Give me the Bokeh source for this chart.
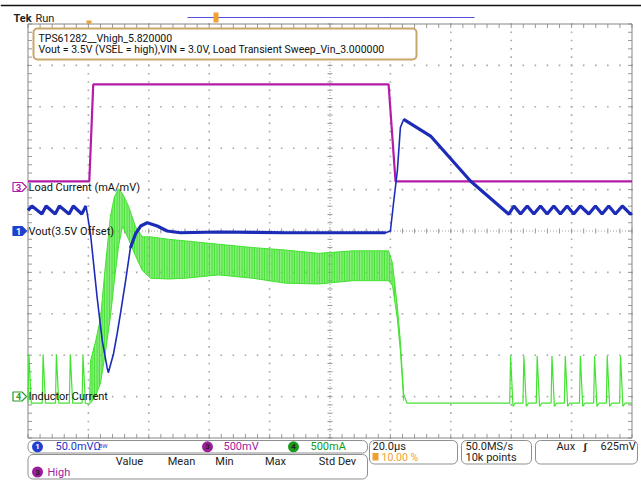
import numpy as np
from bokeh.plotting import figure
from bokeh.models import Range1d
from bokeh.core.properties import value
from bokeh.embed import file_html
from bokeh.resources import INLINE

# ---------------- data ----------------
# horizontal: 20 us/div, trigger position 10 %  ->  -20 us ... 180 us
time_start_us, time_end_us = -20.0, 180.0

# CH3 load current (500 mV/div), marker one division above centre
ch3_scale = 0.5
ch3_marker_div = 1.0
load_t = [-20.0, 0.3, 1.6, 99.4, 101.7, 180.0]
load_v = [0.10, 0.10, 1.27, 1.27, 0.10, 0.10]

# CH1 Vout, 50 mV/div, 3.5 V offset (deviation in mV)
ch1_scale = 50.0
ch1_marker_div = 0.0
vout_t = [-20.0, -18.7, -15.4, -14.0, -11.0, -9.6, -6.4, -5.0, -2.2, -0.8,
          0.7, 2.9, 4.6, 6.2, 6.6, 8.3, 9.5, 10.6, 12.3, 13.9, 15.6, 17.3,
          19.5, 22.8, 26.1, 30.5, 43.1, 65.3, 98.4, 100.0, 101.0, 102.3,
          103.3, 104.4, 113.3, 126.5, 139.2,
          140.9, 143.1, 145.3, 147.5, 149.7, 151.9, 154.1, 156.3, 158.5,
          160.7, 162.9, 165.7, 167.9, 170.1, 172.3, 174.5, 176.8, 179.5, 180.0]
vout_mv = [25.0, 30.2, 20.5, 30.2, 20.5, 30.2, 20.5, 30.2, 20.5, 30.2,
           -3.6, -80.6, -132.8, -165.1, -171.1, -148.5, -124.4, -100.2, -60.4, -20.5, -3.6, 6.0,
           10.0, 6.0, 0.0, -2.1, -1.2, -2.1, -2.1, 0.0, 32.6, 72.5,
           124.8, 134.9, 114.7, 60.4, 20.2,
           30.2, 20.5, 30.2, 20.5, 30.2, 20.5, 30.2, 20.5, 30.2,
           20.5, 30.2, 20.5, 30.2, 20.5, 30.2, 20.5, 30.2, 20.5, 21.5]

# CH4 inductor current, 500 mA/div, marker four divisions below centre
ch4_scale = 0.5
ch4_marker_div = -4.0
il_base_a = -0.08
il_pulse_before_t = [-20.0, -15.3, -10.9, -6.3, -2.1]
il_pulse_before_a = 0.51
il_pulse_after_t = [139.5, 143.9, 148.3, 153.2, 157.6, 162.6, 167.3, 171.5, 175.9]
il_pulse_after_a = 0.49
il_band_t = [0.4, 0.7, 2.4, 4.0, 5.7, 7.3, 8.6, 10.0, 11.3, 13.3, 15.6, 17.9, 20.6,
             26.5, 32.2, 43.1, 54.3, 65.3, 76.2, 87.5, 99.4, 100.7, 102.3, 103.3, 104.4]
il_band_hi = [-0.05, 0.43, 0.67, 0.94, 1.61, 2.18, 2.41, 2.51, 2.45, 2.30, 2.05, 1.93, 1.93,
              1.90, 1.88, 1.84, 1.80, 1.77, 1.73, 1.76, 1.76, 1.61, 1.09, 0.67, 0.03]
il_band_lo = [-0.09, -0.08, 0.01, 0.16, 0.55, 0.97, 1.40, 1.82, 2.06, 1.90, 1.70, 1.52, 1.43,
              1.42, 1.43, 1.47, 1.43, 1.37, 1.36, 1.40, 1.40, 1.34, 0.94, 0.55, -0.05]

# ---------------- layout ----------------
FONT = "Roboto"
FIG_W, FIG_H = 641, 498
PX_PER_US = 604 / 200.0
PX_PER_DIV = 414 / 10.0
GX0, GY0 = 27.5, 23.5
x_start = time_start_us - GX0 / PX_PER_US
x_end = x_start + FIG_W / PX_PER_US
y_top = 5 + GY0 / PX_PER_DIV
y_bot = y_top - FIG_H / PX_PER_DIV


def X(px):
    return x_start + px / PX_PER_US


def Y(py):
    return y_top - py / PX_PER_DIV


BLUE = "#1c2cb8"
MAG = "#b41ca8"
GREEN = "#44e232"
GRID = "#a8a8a8"

p = figure(width=FIG_W, height=FIG_H, x_range=Range1d(x_start, x_end),
           y_range=Range1d(y_bot, y_top), x_axis_location=None, y_axis_location=None,
           toolbar_location=None, output_backend="svg", min_border=0)
p.outline_line_color = None
p.background_fill_color = "white"
p.border_fill_color = "white"
p.xgrid.visible = False
p.ygrid.visible = False
p.extra_y_ranges = {
    "ch1": Range1d((y_bot - ch1_marker_div) * ch1_scale, (y_top - ch1_marker_div) * ch1_scale),
    "ch3": Range1d((y_bot - ch3_marker_div) * ch3_scale, (y_top - ch3_marker_div) * ch3_scale),
    "ch4": Range1d((y_bot - ch4_marker_div) * ch4_scale, (y_top - ch4_marker_div) * ch4_scale),
}

# top rule of the document page
p.segment(x0=[X(0)], y0=[Y(5)], x1=[X(641)], y1=[Y(5)], line_color="#111111", line_width=1.5)

# ---------------- graticule ----------------
minor_t = np.arange(-20, 180.001, 4.0)
minor_d = np.arange(-5, 5.001, 0.2)
rows = [-4, -3, -2, -1, 1, 2, 3, 4]
cols = [0, 20, 40, 60, 100, 120, 140, 160]
dx = np.concatenate([minor_t for _ in rows] + [np.full(len(minor_d), c) for c in cols])
dy = np.concatenate([np.full(len(minor_t), r) for r in rows] + [minor_d for _ in cols])
p.scatter(dx, dy, marker="square", size=1.6, fill_color=GRID, line_color=None)
p.segment(x0=[-20, 80], y0=[0, -5], x1=[180, 80], y1=[0, 5], line_color="#a0a0a0", line_dash="1 2")
p.scatter(minor_t, np.zeros(len(minor_t)), marker="dash", size=5, angle=np.pi / 2, line_color="#999999")
p.scatter(np.full(len(minor_d), 80), minor_d, marker="dash", size=5, line_color="#999999")
p.scatter(minor_t, np.full(len(minor_t), 5 - 2 / PX_PER_DIV), marker="dash", size=4, angle=np.pi / 2, line_color="#999999")
p.scatter(minor_t, np.full(len(minor_t), -5 + 2 / PX_PER_DIV), marker="dash", size=4, angle=np.pi / 2, line_color="#999999")
p.scatter(np.full(len(minor_d), -20 + 2 / PX_PER_US), minor_d, marker="dash", size=4, line_color="#999999")
p.scatter(np.full(len(minor_d), 180 - 2 / PX_PER_US), minor_d, marker="dash", size=4, line_color="#999999")
p.quad(left=[-20], right=[180], bottom=[-5], top=[5], fill_color=None, line_color="#858585", line_width=1)

# white backgrounds behind the channel labels
p.quad(left=[X(28.5)] * 3, right=[X(140), X(115), X(111)],
       bottom=[Y(192), Y(236), Y(401)], top=[Y(182), Y(225), Y(391)],
       fill_color="white", line_color=None)

# ---------------- traces ----------------
gt, ga = [], []
for tp in il_pulse_before_t:
    gt += [tp, tp + 0.3, tp + 1.1]
    ga += [il_base_a, il_pulse_before_a, il_base_a]
gt += [il_band_t[0]]
ga += [il_band_lo[0]]
p.line(gt, ga, y_range_name="ch4", line_color=GREEN, line_width=1.2)
p.varea(x=il_band_t, y1=il_band_lo, y2=il_band_hi, y_range_name="ch4", fill_color=GREEN, fill_alpha=0.62,
        hatch_pattern="vertical_line", hatch_color=GREEN, hatch_scale=2.5, hatch_weight=1.5, hatch_alpha=1.0)
p.line(il_band_t, il_band_hi, y_range_name="ch4", line_color=GREEN, line_width=1)
p.line(il_band_t, il_band_lo, y_range_name="ch4", line_color=GREEN, line_width=1)
gt2, ga2 = [il_band_t[-1], 105.5], [il_band_hi[-1], il_base_a]
for tp in il_pulse_after_t:
    gt2 += [tp, tp + 0.3, tp + 1.1, tp + 1.8]
    ga2 += [il_base_a, il_pulse_after_a, il_base_a - 0.04, il_base_a]
gt2 += [time_end_us]
ga2 += [il_base_a]
p.line(gt2, ga2, y_range_name="ch4", line_color=GREEN, line_width=1.2)

p.line(load_t, load_v, y_range_name="ch3", line_color=MAG, line_width=2.2)

# Vout: thin on fast edges, noisy (thicker) on the slow parts
p.line(vout_t, vout_mv, y_range_name="ch1", line_color=BLUE, line_width=1.6)
for a, b in [(0, 10), (19, 29), (33, len(vout_t))]:
    p.line(vout_t[a:b], vout_mv[a:b], y_range_name="ch1", line_color=BLUE, line_width=3.2)


def txt(x, y, s, size="11px", color="#111111", align="left", style="normal"):
    p.text(x=[x], y=[y], text=[s], text_font=value(FONT), text_font_size=value(size),
           text_color=color, text_align=align, text_baseline="middle", text_font_style=style)


def badge(py, color, filled, label):
    l, h = 12.5, 4.5
    xs = [X(l), X(l + 9), X(l + 13.5), X(l + 9), X(l)]
    ys = [Y(py - h), Y(py - h), Y(py), Y(py + h), Y(py + h)]
    p.patch(xs, ys, fill_color=color if filled else "white", line_color=color, line_width=1.2)
    txt(X(l + 5.5), Y(py), label, size="9px", color="white" if filled else color, align="center", style="bold")


# channel labels
badge(186.5, MAG, False, "3")
txt(X(28), Y(186.5), "Load Current (mA/mV)")
badge(230.5, "#1f3fd0", True, "1")
txt(X(28), Y(230.5), "Vout(3.5V Offset)")
badge(396, "#2a9a2a", False, "4")
txt(X(28), Y(396), "Inductor Current")

# ---------------- header ----------------
txt(X(13), Y(17.5), "Tek", size="11px", color="#222222", style="bold")
txt(X(35), Y(17.5), "Run", size="11px", color="#222222")
p.segment(x0=[X(187)], y0=[Y(17)], x1=[X(474)], y1=[Y(17)], line_color="#5050d8", line_width=1)
p.quad(left=[X(213)], right=[X(218)], bottom=[Y(22)], top=[Y(12)], fill_color="#f0a030", line_color=None)
p.quad(left=[X(86)], right=[X(91)], bottom=[Y(23)], top=[Y(20)], fill_color="#f0a030", line_color=None)
p.quad(left=[X(33)], right=[X(416)], bottom=[Y(59)], top=[Y(28)], fill_color="white",
       line_color="#c9a66b", line_width=2, border_radius=4)
txt(X(38), Y(37.5), "TPS61282__Vhigh_5.820000", size="10.5px")
txt(X(38), Y(49), "Vout = 3.5V (VSEL = high),VIN = 3.0V, Load Transient Sweep_Vin_3.000000", size="10.5px")

# ---------------- status panel ----------------
box_l = [27.5, 27.5, 369, 461, 535]
box_r = [367, 367, 457, 531, 637]
box_t = [440, 454, 440, 440, 440]
box_b = [452.5, 478.5, 463.5, 463.5, 463.5]
p.quad(left=[X(v) for v in box_l], right=[X(v) for v in box_r], top=[Y(v) for v in box_t],
       bottom=[Y(v) for v in box_b], fill_color="white", line_color="#8f8f8f", line_width=1, border_radius=5)

p.scatter([X(37)], [Y(446.3)], marker="circle", size=11, fill_color="#1f3fd0", line_color=None)
txt(X(37), Y(446.3), "1", size="8px", color="white", align="center", style="bold")
txt(X(55), Y(446.3), "50.0mVΩ", color="#2233cc")
txt(X(98), Y(445), "BW", size="6px", color="#2233cc")
p.scatter([X(207)], [Y(446.3)], marker="circle", size=11, fill_color="#9c1c9c", line_color=None)
txt(X(207), Y(446.3), "3", size="8px", color="#222222", align="center", style="bold")
txt(X(223), Y(446.3), "500mV", color="#a020a0")
p.scatter([X(293)], [Y(446.3)], marker="circle", size=11, fill_color="#1a9a1a", line_color=None)
txt(X(293), Y(446.3), "4", size="8px", color="#222222", align="center", style="bold")
txt(X(310), Y(446.3), "500mA", color="#129a12")

for cx, s in zip([129, 181, 224, 275, 337], ["Value", "Mean", "Min", "Max", "Std Dev"]):
    txt(X(cx), Y(461), s, color="#222222", align="center")
p.scatter([X(37)], [Y(471.5)], marker="circle", size=11, fill_color="#9c1c9c", line_color=None)
txt(X(37), Y(471.5), "3", size="8px", color="#222222", align="center", style="bold")
txt(X(47), Y(471.5), "High", color="#a020a0")

txt(X(372), Y(446.3), "20.0µs", color="#222222")
p.quad(left=[X(372)], right=[X(378)], bottom=[Y(460)], top=[Y(452.5)], fill_color="#f0a030", line_color=None)
txt(X(381), Y(456.5), "10.00 %", color="#f0a030", size="10.5px")
txt(X(465), Y(446.3), "50.0MS/s", color="#222222")
txt(X(465), Y(456.8), "10k points", color="#222222")
txt(X(556), Y(446.3), "Aux", color="#222222")
txt(X(583), Y(446.3), "ʃ", color="#222222", style="bold")
txt(X(600), Y(446.3), "625mV", color="#222222")

open("out.html", "w").write(file_html(p, INLINE, title="TPS61282 load transient"))
